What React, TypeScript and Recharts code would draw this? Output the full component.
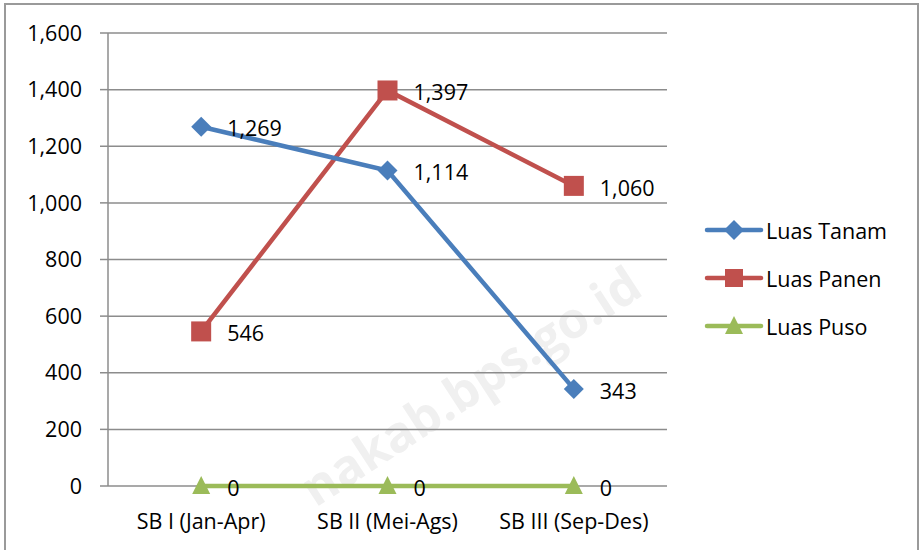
import React from 'react';
import {
  LineChart,
  Line,
  XAxis,
  YAxis,
  CartesianGrid,
  LabelList,
} from 'recharts';

const categories = ['SB I (Jan-Apr)', 'SB II (Mei-Ags)', 'SB III (Sep-Des)'];
const luasTanam = [1269, 1114, 343];
const luasPanen = [546, 1397, 1060];
const luasPuso = [0, 0, 0];
const yTicks = [0, 200, 400, 600, 800, 1000, 1200, 1400, 1600];

const BLUE = '#4A7EBB';
const RED = '#C0504D';
const GREEN = '#9BBB59';
const GRID = '#8c8c8c';
const FONT = '"Open Sans", "Liberation Sans", sans-serif';

const data = categories.map((name, i) => ({
  x: i + 0.5,
  name,
  tanam: luasTanam[i],
  panen: luasPanen[i],
  puso: luasPuso[i],
}));

const Diamond = (props: any) => {
  const { cx, cy } = props;
  if (cx == null || cy == null) return null;
  return <path d={`M${cx},${cy - 10}L${cx + 10},${cy}L${cx},${cy + 10}L${cx - 10},${cy}Z`} fill={BLUE} />;
};

const Square = (props: any) => {
  const { cx, cy } = props;
  if (cx == null || cy == null) return null;
  return <rect x={cx - 10} y={cy - 10} width={20} height={20} fill={RED} />;
};

const Triangle = (props: any) => {
  const { cx, cy } = props;
  if (cx == null || cy == null) return null;
  return <path d={`M${cx},${cy - 10}L${cx + 9},${cy + 8}L${cx - 9},${cy + 8}Z`} fill={GREEN} />;
};

const legendItems = [
  { label: 'Luas Tanam', color: BLUE, marker: 'diamond' },
  { label: 'Luas Panen', color: RED, marker: 'square' },
  { label: 'Luas Puso', color: GREEN, marker: 'triangle' },
];

const fmt = (v: number) => Number(v).toLocaleString('en-US');

const labelStyle = { fontSize: 21.5, fill: '#000', fontFamily: FONT };

export default function App() {
  return (
    <div style={{ position: 'absolute', left: 0, top: 0, width: 923, height: 550, background: '#fff', fontFamily: FONT, overflow: 'hidden' }}>
      {/* chart frame */}
      <div style={{ position: 'absolute', left: 4, top: 3, width: 915, height: 560, border: '2px solid #9a9a9a', boxSizing: 'border-box' }} />
      {/* watermark */}
      <div
        style={{
          position: 'absolute',
          left: 470 - 260,
          top: 385 - 30,
          width: 520,
          textAlign: 'center',
          fontSize: 50,
          fontWeight: 700,
          color: '#f0f0f0',
          transform: 'rotate(-33deg)',
          whiteSpace: 'nowrap',
          lineHeight: '60px',
        }}
      >
        nakab.bps.go.id
      </div>
      <div style={{ position: 'absolute', left: 0, top: 0 }}>
        <LineChart width={923} height={550} data={data} margin={{ top: 33, right: 256, left: 0, bottom: 0 }}>
          <CartesianGrid vertical={false} stroke={GRID} strokeWidth={1.5} />
          <XAxis
            xAxisId="bounds"
            type="number"
            domain={[0, 3]}
            ticks={[0, 1, 2, 3]}
            tick={false}
            tickSize={6}
            height={0}
            axisLine={{ stroke: GRID, strokeWidth: 1.5 }}
            tickLine={{ stroke: GRID, strokeWidth: 1.5 }}
          />
          <XAxis
            xAxisId="cat"
            dataKey="x"
            type="number"
            domain={[0, 3]}
            ticks={[0.5, 1.5, 2.5]}
            tickFormatter={(v: number) => categories[Math.floor(v)]}
            tickLine={false}
            axisLine={false}
            tickSize={0}
            tickMargin={28}
            height={64}
            tick={labelStyle}
          />
          <YAxis
            domain={[0, 1600]}
            ticks={yTicks}
            width={108}
            tickFormatter={fmt}
            tickSize={8}
            tickMargin={18}
            tick={labelStyle}
            axisLine={{ stroke: GRID, strokeWidth: 1.5 }}
            tickLine={{ stroke: GRID, strokeWidth: 1.5 }}
          />
          <Line xAxisId="cat" dataKey="puso" stroke={GREEN} strokeWidth={4.5} dot={<Triangle />} activeDot={false} isAnimationActive={false}>
            <LabelList dataKey="puso" position="right" offset={26} formatter={fmt} style={labelStyle} dy={2} />
          </Line>
          <Line xAxisId="cat" dataKey="panen" stroke={RED} strokeWidth={4.5} dot={<Square />} activeDot={false} isAnimationActive={false}>
            <LabelList dataKey="panen" position="right" offset={26} formatter={fmt} style={labelStyle} dy={2} />
          </Line>
          <Line xAxisId="cat" dataKey="tanam" stroke={BLUE} strokeWidth={4.5} dot={<Diamond />} activeDot={false} isAnimationActive={false}>
            <LabelList dataKey="tanam" position="right" offset={26} formatter={fmt} style={labelStyle} dy={2} />
          </Line>
        </LineChart>
      </div>
      {/* legend */}
      {legendItems.map((item, i) => (
        <div key={item.label} style={{ position: 'absolute', left: 704, top: 230 + i * 48 - 15, height: 30, display: 'flex', alignItems: 'center' }}>
          <svg width={60} height={30}>
            <line x1={3} y1={15} x2={57} y2={15} stroke={item.color} strokeWidth={4.5} strokeLinecap="round" />
            {item.marker === 'diamond' && <path d="M30,5L40,15L30,25L20,15Z" fill={item.color} />}
            {item.marker === 'square' && <rect x={21} y={6} width={18} height={18} fill={item.color} />}
            {item.marker === 'triangle' && <path d="M30,5L39,23L21,23Z" fill={item.color} />}
          </svg>
          <span style={{ fontSize: 21.5, color: '#000', marginLeft: 2 }}>{item.label}</span>
        </div>
      ))}
    </div>
  );
}
